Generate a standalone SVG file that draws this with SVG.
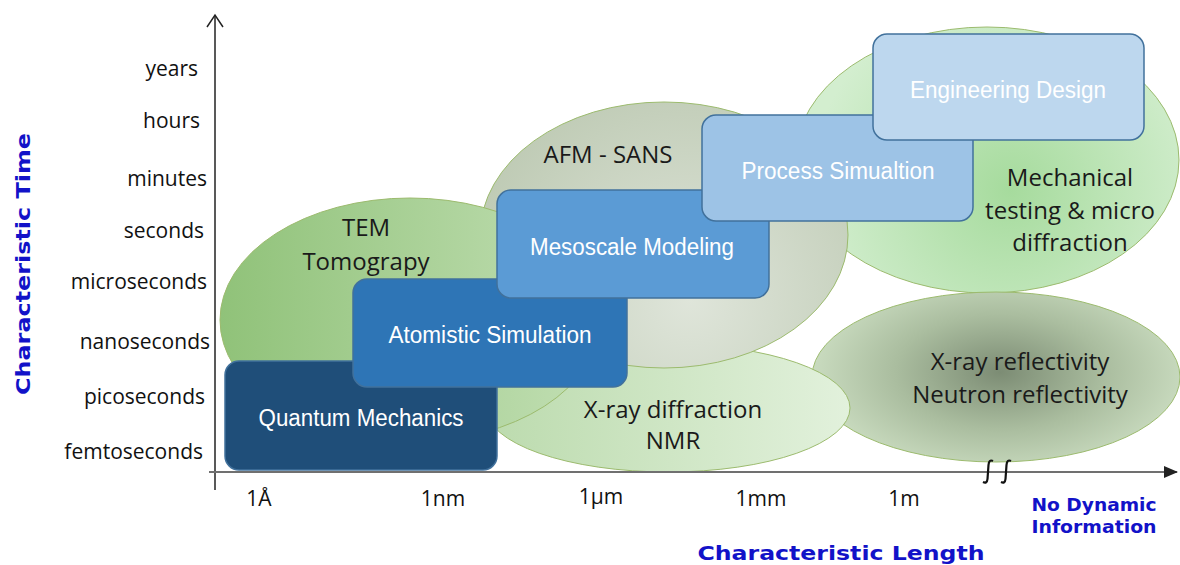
<svg xmlns="http://www.w3.org/2000/svg" width="1180" height="565" viewBox="0 0 1180 565">
<defs>
<style>
.tick{font-family:"Open Sans","DejaVu Sans",sans-serif;font-size:21px;fill:#111;}
.xt{font-family:"Open Sans","DejaVu Sans",sans-serif;font-size:21px;fill:#111;text-anchor:middle;}
.el{font-family:"Open Sans","DejaVu Sans",sans-serif;font-size:24px;fill:#1a1a1a;text-anchor:middle;}
.bx{font-family:"Liberation Sans Narrow","Liberation Sans",Arial,sans-serif;font-size:23px;fill:#fff;text-anchor:middle;}
.ax{font-family:"DejaVu Sans",Verdana,sans-serif;font-weight:bold;fill:#1212c8;}
.ell{stroke:#9cbb6e;stroke-width:1;}
.box{stroke:#41719c;stroke-width:1.5;}
.brk{fill:none;stroke:#111;stroke-width:2.2;}
</style>
<linearGradient id="gTem" gradientUnits="userSpaceOnUse" x1="220" y1="0" x2="600" y2="0">
<stop offset="0" stop-color="#90c279"/><stop offset="1" stop-color="#c2dfb4"/>
</linearGradient>
<radialGradient id="gAfm" gradientUnits="userSpaceOnUse" cx="690" cy="300" r="230">
<stop offset="0" stop-color="#dfe5da"/><stop offset="1" stop-color="#bfcbb5"/>
</radialGradient>
<linearGradient id="gXray" gradientUnits="userSpaceOnUse" x1="490" y1="0" x2="850" y2="0">
<stop offset="0" stop-color="#bcdbae"/><stop offset="1" stop-color="#e2f1dc"/>
</linearGradient>
<radialGradient id="gMech" gradientUnits="userSpaceOnUse" cx="1010" cy="190" r="200">
<stop offset="0" stop-color="#a6db9d"/><stop offset="1" stop-color="#d3eecf"/>
</radialGradient>
<radialGradient id="gRefl" gradientUnits="userSpaceOnUse" cx="1000" cy="372" r="190" gradientTransform="translate(1000 372) scale(1 0.55) translate(-1000 -372)">
<stop offset="0" stop-color="#7c8c74"/><stop offset="0.55" stop-color="#aabd9f"/><stop offset="1" stop-color="#cadcc0"/>
</radialGradient>
<marker id="arrX" markerWidth="14" markerHeight="12" refX="13" refY="6" orient="auto" markerUnits="userSpaceOnUse">
<path d="M0,0 L14,6 L0,12 Z" fill="#222"/>
</marker>
</defs>
<rect width="1180" height="565" fill="#fff"/>

<g id="ellipses">
<g id="ell-mech"><ellipse class="ell" cx="987" cy="160" rx="192" ry="133" fill="url(#gMech)"/></g>
<g id="ell-refl"><ellipse class="ell" cx="996" cy="377" rx="184" ry="85" fill="url(#gRefl)"/></g>
<g id="ell-xray"><ellipse class="ell" cx="668" cy="408" rx="182" ry="64" fill="url(#gXray)"/></g>
<g id="ell-afm"><ellipse class="ell" cx="664" cy="235" rx="184" ry="133" fill="url(#gAfm)"/></g>
<g id="ell-tem"><ellipse class="ell" cx="410" cy="320" rx="190" ry="122" fill="url(#gTem)"/></g>
</g>

<g id="ellipse-labels">
<text class="el" x="366" y="236">TEM</text>
<text class="el" x="366" y="270">Tomograpy</text>
<text class="el" x="608" y="163">AFM - SANS</text>
<text class="el" x="1070" y="186">Mechanical</text>
<text class="el" x="1070" y="219">testing &amp; micro</text>
<text class="el" x="1070" y="251">diffraction</text>
<text class="el" x="673" y="418">X-ray diffraction</text>
<text class="el" x="673" y="449">NMR</text>
<text class="el" x="1020" y="370">X-ray reflectivity</text>
<text class="el" x="1020" y="403">Neutron reflectivity</text>
</g>

<g id="axes">
<line x1="215" y1="16" x2="215" y2="490" stroke="#222" stroke-width="1.5"/>
<path d="M207,27 L215,15 L223,27" fill="none" stroke="#222" stroke-width="1.5"/>
<line x1="209" y1="472" x2="1177" y2="472" stroke="#707070" stroke-width="2" marker-end="url(#arrX)"/>
<path class="brk" d="M983,482 Q987,484 987.5,479 L988.5,465 Q989,459 993,461"/>
<path class="brk" d="M1001,482 Q1005,484 1005.5,479 L1006.5,465 Q1007,459 1011,461"/>
</g>

<g id="node-quantum"><rect class="box" x="225" y="361" width="272" height="109" rx="14" fill="#1f4e79"/>
<text class="bx" x="361" y="426" textLength="205" lengthAdjust="spacingAndGlyphs">Quantum Mechanics</text></g>
<g id="node-atomistic"><rect class="box" x="353" y="279" width="274" height="108" rx="14" fill="#2e75b6"/>
<text class="bx" x="490" y="343" textLength="203" lengthAdjust="spacingAndGlyphs">Atomistic Simulation</text></g>
<g id="node-mesoscale"><rect class="box" x="497" y="190" width="272" height="108" rx="14" fill="#5b9bd5"/>
<text class="bx" x="632" y="255" textLength="204" lengthAdjust="spacingAndGlyphs">Mesoscale Modeling</text></g>
<g id="node-process"><rect class="box" x="702" y="115" width="271" height="106" rx="14" fill="#9dc3e6"/>
<text class="bx" x="838" y="179" textLength="193" lengthAdjust="spacingAndGlyphs">Process Simualtion</text></g>
<g id="node-engineering"><rect class="box" x="873" y="34" width="271" height="106" rx="14" fill="#bdd7ee"/>
<text class="bx" x="1008" y="98" textLength="196" lengthAdjust="spacingAndGlyphs" fill="#f2f6fa">Engineering Design</text></g>

<g id="y-ticks" text-anchor="end">
<text class="tick" x="198" y="76">years</text>
<text class="tick" x="200" y="128">hours</text>
<text class="tick" x="207" y="186">minutes</text>
<text class="tick" x="204" y="238">seconds</text>
<text class="tick" x="207" y="289">microseconds</text>
<text class="tick" x="210" y="349">nanoseconds</text>
<text class="tick" x="205" y="404">picoseconds</text>
<text class="tick" x="203" y="459">femtoseconds</text>
</g>

<g id="x-ticks">
<text class="xt" x="259" y="506">1Å</text>
<text class="xt" x="443" y="506">1nm</text>
<text class="xt" x="601" y="504">1μm</text>
<text class="xt" x="761" y="506">1mm</text>
<text class="xt" x="904" y="506">1m</text>
</g>

<g id="axis-titles">
<text class="ax" font-size="20" transform="translate(30 264) rotate(-90)" text-anchor="middle" textLength="262" lengthAdjust="spacingAndGlyphs">Characteristic  Time</text>
<text class="ax" font-size="20" x="841" y="560" text-anchor="middle" textLength="287" lengthAdjust="spacingAndGlyphs">Characteristic  Length</text>
<text class="ax" font-size="17" x="1094" y="511" text-anchor="middle" textLength="125" lengthAdjust="spacingAndGlyphs">No Dynamic</text>
<text class="ax" font-size="17" x="1094" y="533" text-anchor="middle" textLength="125" lengthAdjust="spacingAndGlyphs">Information</text>
</g>
</svg>
